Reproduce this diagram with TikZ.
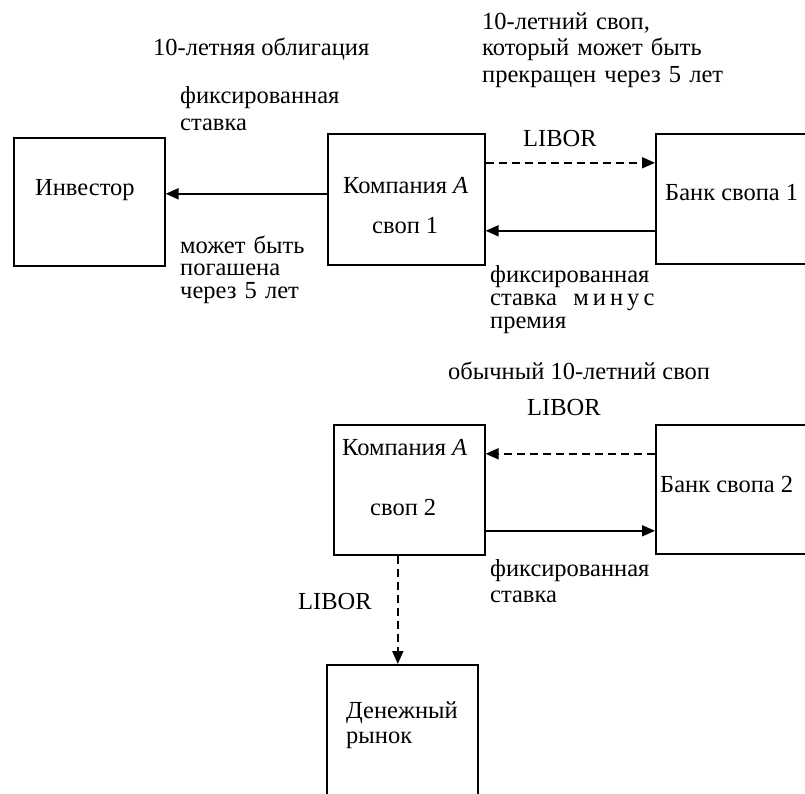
\documentclass[tikz,border=0pt]{standalone}
\usepackage{fontspec}
\setmainfont{Liberation Serif}
\usetikzlibrary{arrows.meta}
\begin{document}
\begin{tikzpicture}[x=1pt,y=-1pt,
  box/.style={draw, line width=1.6pt, rectangle, inner sep=0pt, anchor=north west},
  txt/.style={inner sep=0pt, anchor=base west, font=\fontsize{24.5}{26}\selectfont},
  mtxt/.style={txt, text width=300pt, align=left, font=\fontsize{24.5}{#1}\selectfont},
  arr/.style={line width=1.8pt, -{Triangle[length=13pt,width=11pt]}},
  darr/.style={arr, dash pattern=on 8pt off 5pt},
]
\useasboundingbox (0,0) rectangle (805,793);
\begin{scope}
\clip (0,0) rectangle (805,793);
% boxes
\node[box, minimum width=151pt, minimum height=128pt] (inv) at (13,137) {};
\node[box, minimum width=157pt, minimum height=131pt] (ca1) at (327,133) {};
\node[box, minimum width=160pt, minimum height=130pt] (bank1) at (655,133) {};
\node[box, minimum width=151pt, minimum height=130pt] (ca2) at (333,424) {};
\node[box, minimum width=160pt, minimum height=129pt] (bank2) at (655,424) {};
\node[box, minimum width=151pt, minimum height=160pt] (mm) at (326,664) {};
% texts
\node[txt] (t1) at (153,55) {10-летняя облигация};
\node[mtxt=26.5] (t2) at (482,29) {10-летний своп,\\который может быть\\прекращен через 5 лет};
\node[mtxt=27] (t3) at (180,103) {фиксированная\\ставка};
\node[txt] (t4) at (523,146) {LIBOR};
\node[txt] (t5) at (35,195) {Инвестор};
\node[txt] (t6) at (343,193) {Компания \textit{A}};
\node[txt] (t7) at (372,233) {своп 1};
\node[txt] (t8) at (665,200) {Банк свопа 1};
\node[mtxt=22.5] (t9) at (180,253) {может быть\\погашена\\через 5 лет};
\node[mtxt=23] (t10) at (490,282) {фиксированная\\ставка\ \ м\,и\,н\,у\,с\\премия};
\node[txt] (t11) at (448,379) {обычный 10-летний своп};
\node[txt] (t12) at (527,415) {LIBOR};
\node[txt] (t13) at (342,455) {Компания \textit{A}};
\node[txt] (t14) at (370,515) {своп 2};
\node[txt] (t15) at (660,492) {Банк свопа 2};
\node[mtxt=26] (t16) at (490,576) {фиксированная\\ставка};
\node[txt] (t17) at (298,609) {LIBOR};
\node[mtxt=25] (t18) at (346,718) {Денежный\\рынок};
% connectors
\draw[arr] ([yshift=5.5pt]ca1.west) -- ([yshift=5.5pt]ca1.west -| inv.east);
\draw[darr] ([yshift=36.5pt]ca1.east) -- ([yshift=36.5pt]ca1.east -| bank1.west);
\draw[arr] ([yshift=-32pt]bank1.west) -- ([yshift=-32pt]bank1.west -| ca1.east);
\draw[darr] ([yshift=35.5pt]bank2.west) -- ([yshift=35.5pt]bank2.west -| ca2.east);
\draw[arr] ([yshift=-41pt]ca2.east) -- ([yshift=-41pt]ca2.east -| bank2.west);
\draw[darr] ([xshift=-11.5pt]ca2.south) -- ([xshift=-11.5pt]ca2.south |- mm.north);
\end{scope}
\end{tikzpicture}
\end{document}
